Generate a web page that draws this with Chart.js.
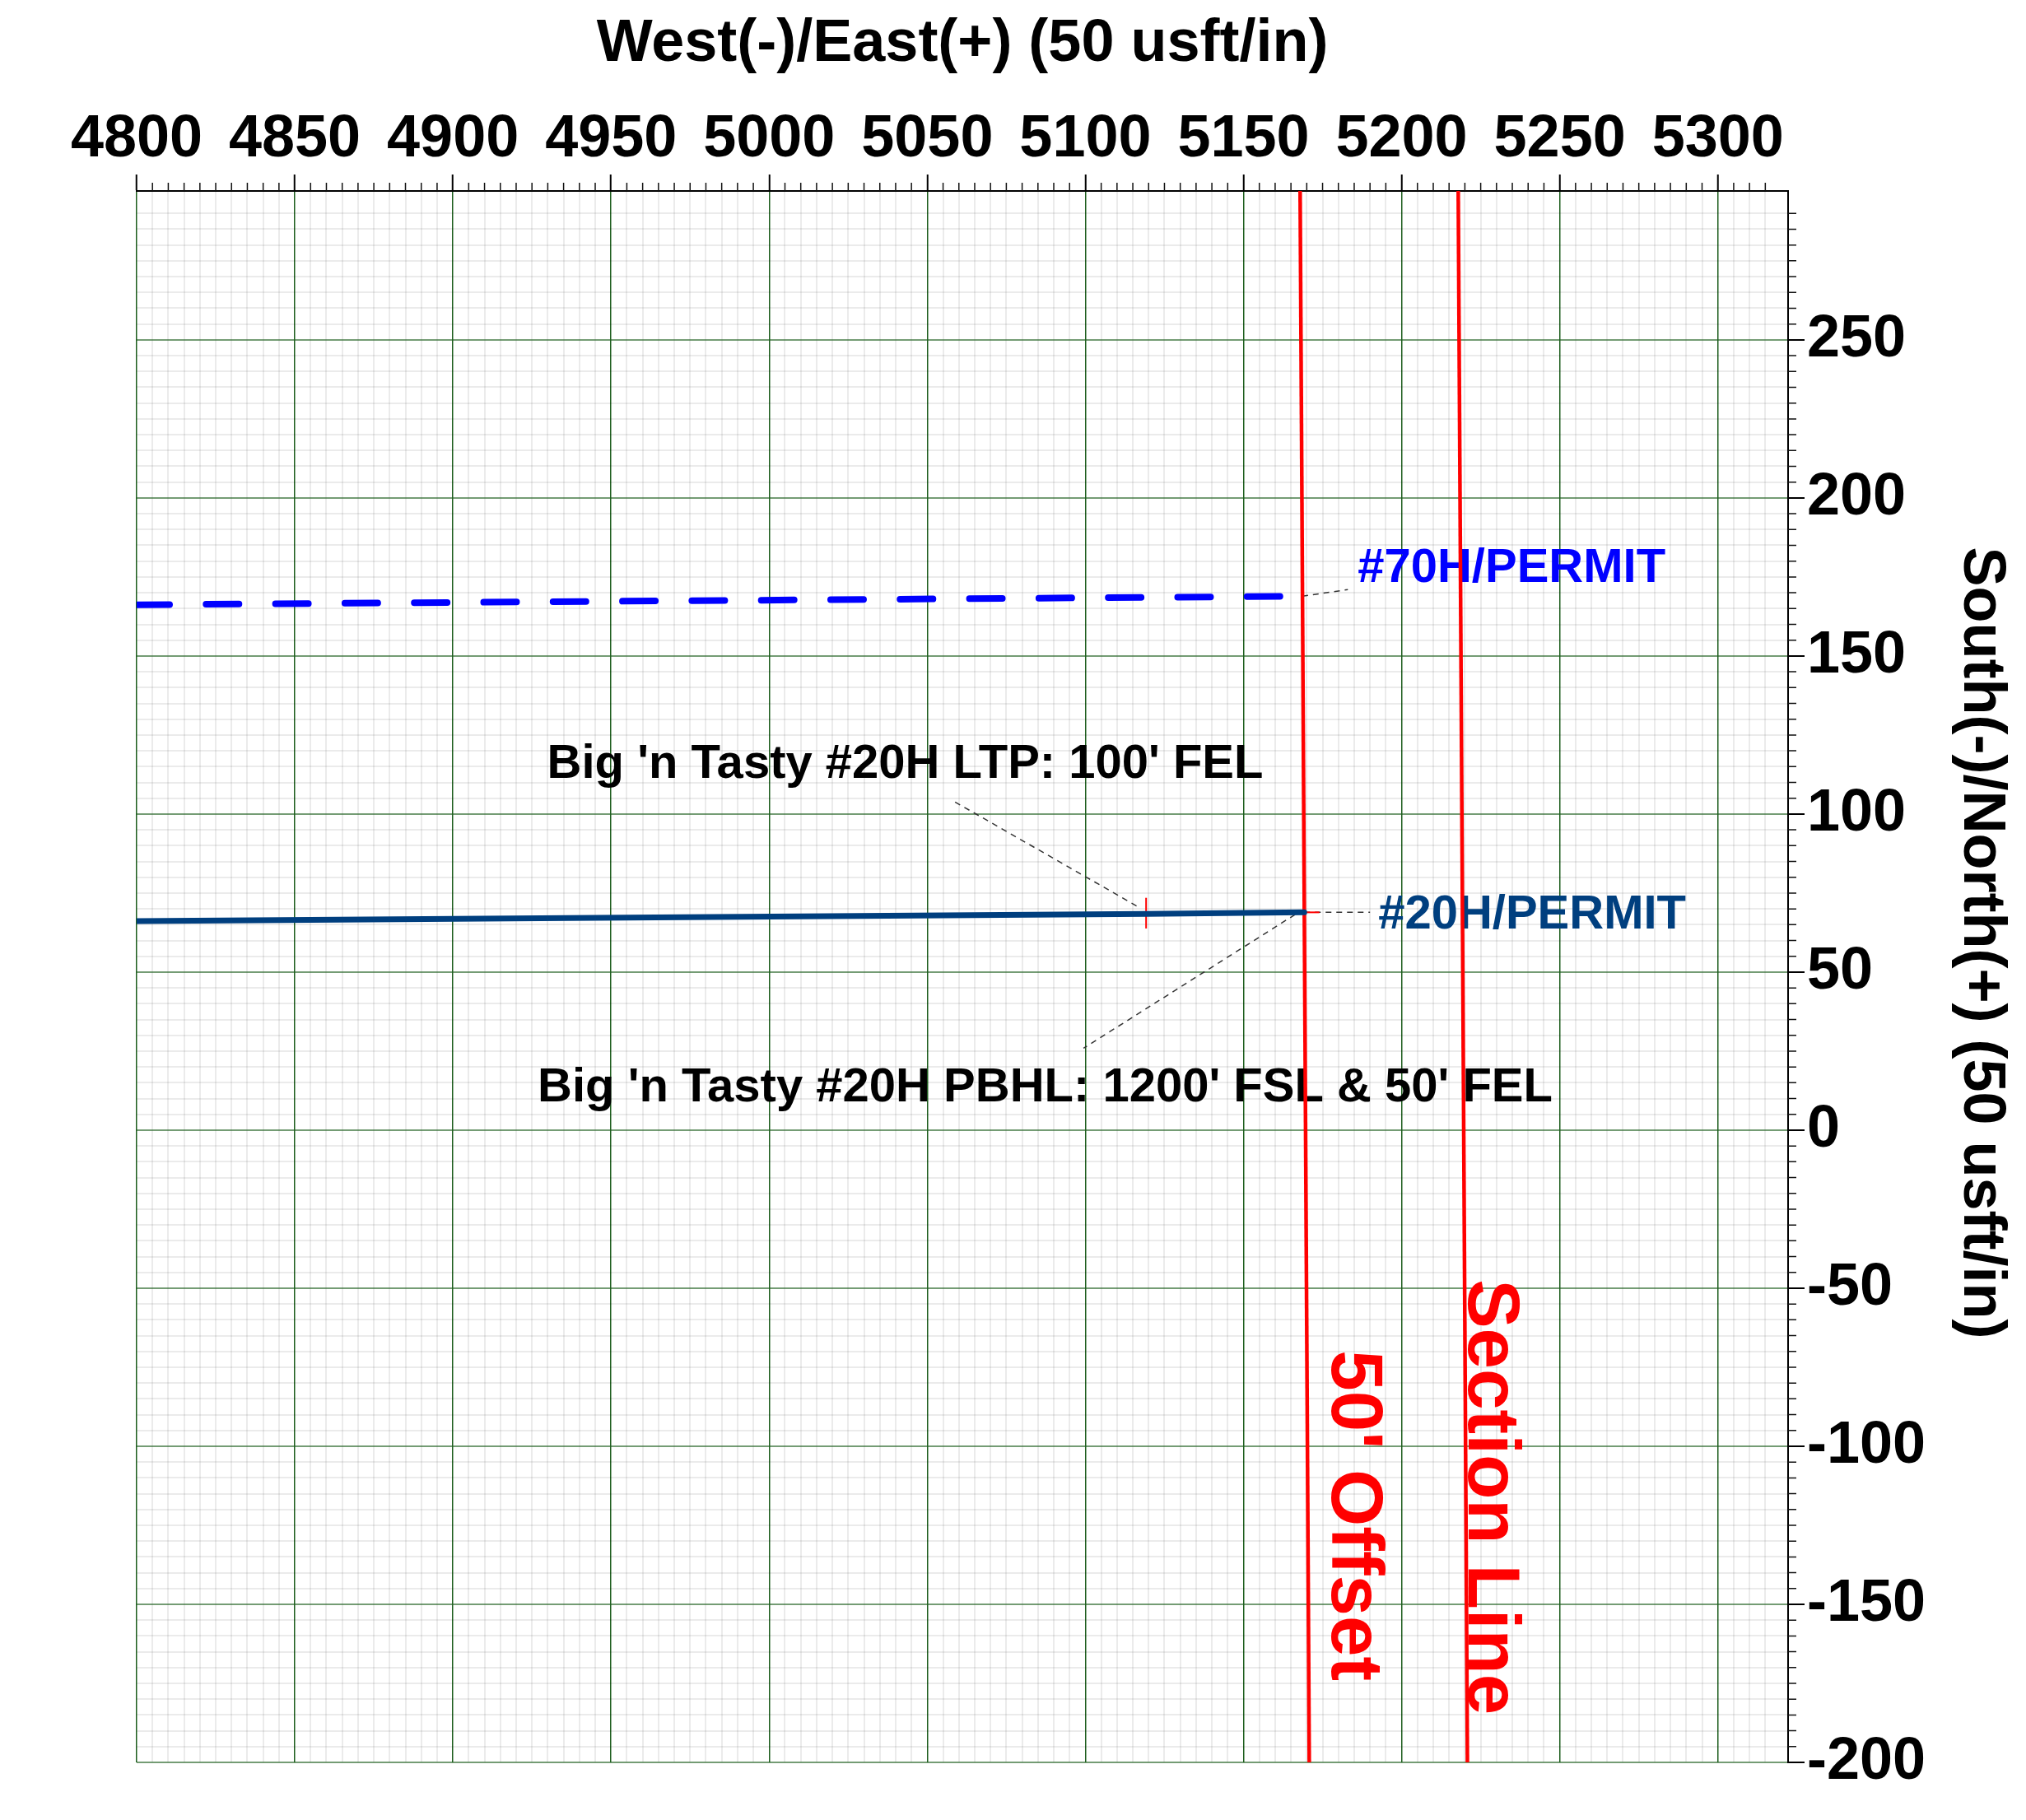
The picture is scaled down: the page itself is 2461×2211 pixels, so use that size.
<!DOCTYPE html>
<html>
<head>
<meta charset="utf-8">
<script src="https://cdn.jsdelivr.net/npm/chart.js@4.4.1/dist/chart.umd.min.js"></script>
<style>
  html, body { margin: 0; padding: 0; background: #fff; }
  #wrap { width: 2461px; height: 2211px; position: relative; }
</style>
</head>
<body>
<div id="wrap"><canvas id="plan"></canvas></div>
<script>
// plan view window (usft)
const xMin = 4800, xMax = 5322.2
const yMin = -200, yMax = 297.1

// well paths
const h70X = [4800, 5168.6]
const h70Y = [166.2, 168.9]
const h20X = [4800, 5119.2, 5169.2]
const h20Y = [66.1, 68.4, 68.9]

// hard lines
const offsetX = [5167.9, 5170.8]
const offsetY = [297.1, -200]
const sectionX = [5217.9, 5220.8]
const sectionY = [297.1, -200]

// LTP marker + PBHL stub
const ltpX = [5119.2, 5119.2]
const ltpY = [63.8, 73.5]
const pbhlX = [5169.2, 5174.0]
const pbhlY = [68.9, 68.9]

// label leaders
const lead70X = [5168.6, 5183.0]
const lead70Y = [168.9, 171.0]
const lead20X = [5169.2, 5190.0]
const lead20Y = [68.9, 68.9]
const leadLtpX = [5058.8, 5116.4]
const leadLtpY = [103.8, 70.8]
const leadPbhlX = [5166.3, 5099.4]
const leadPbhlY = [68.2, 25.9]

const FONT = '"Liberation Sans", Arial, Helvetica, sans-serif'

const pts = (xs, ys) => xs.map((x, i) => ({x: x, y: ys[i]}))
const onStep = (v, s) => Math.abs(v / s - Math.round(v / s)) < 1e-6

// text placed in data units
const notes = [
  {text: '#70H/PERMIT', x: 5186.1, y: 177.6, color: '#0000ff', size: 58},
  {text: '#20H/PERMIT', x: 5192.6, y: 68.0, color: '#003f7f', size: 58},
  {text: "Big 'n Tasty #20H LTP: 100' FEL", x: 4929.8, y: 115.6, color: '#000', size: 58},
  {text: "Big 'n Tasty #20H PBHL: 1200' FSL & 50' FEL", x: 4926.8, y: 13.3, color: '#000', size: 58}
]
const vnotes = [
  {text: "50' Offset", x: 5178.0, y: -69.6, color: '#ff0000', size: 89},
  {text: 'Section Line', x: 5221.3, y: -47.2, color: '#ff0000', size: 89}
]

const line = (data, color, width, extra) => Object.assign({
  data: data, borderColor: color, borderWidth: width, showLine: true,
  pointRadius: 0, fill: false, tension: 0
}, extra || {})

const leader = (xs, ys) => line(pts(xs, ys), '#333', 1.5, {borderDash: [7, 6], order: 3})

const decor = {
  id: 'decor',
  beforeDatasetsDraw(chart) {
    const ctx = chart.ctx, sx = chart.scales.x, sy = chart.scales.y
    ctx.save()
    notes.forEach(n => {
      ctx.font = 'bold ' + n.size + 'px ' + FONT
      ctx.fillStyle = n.color
      ctx.textAlign = 'left'
      ctx.textBaseline = 'middle'
      ctx.fillText(n.text, sx.getPixelForValue(n.x), sy.getPixelForValue(n.y))
    })
    vnotes.forEach(n => {
      ctx.save()
      ctx.translate(sx.getPixelForValue(n.x), sy.getPixelForValue(n.y))
      ctx.rotate(Math.PI / 2)
      ctx.font = 'bold ' + n.size + 'px ' + FONT
      ctx.fillStyle = n.color
      ctx.textAlign = 'left'
      ctx.textBaseline = 'alphabetic'
      ctx.fillText(n.text, 0, 0)
      ctx.restore()
    })
    ctx.restore()
  },
  afterDraw(chart) {
    const ctx = chart.ctx, sx = chart.scales.x, sy = chart.scales.y, a = chart.chartArea
    ctx.save()
    // minor tick marks
    ctx.strokeStyle = '#111'
    ctx.lineWidth = 1.5
    ctx.beginPath()
    sx.ticks.forEach(t => {
      if (onStep(t.value, 5) && !onStep(t.value, 50)) {
        const p = sx.getPixelForValue(t.value)
        ctx.moveTo(p, a.top)
        ctx.lineTo(p, a.top - 10)
      }
    })
    sy.ticks.forEach(t => {
      if (onStep(t.value, 5) && !onStep(t.value, 50)) {
        const p = sy.getPixelForValue(t.value)
        ctx.moveTo(a.right, p)
        ctx.lineTo(a.right + 10, p)
      }
    })
    ctx.stroke()
    // y axis title
    ctx.translate(a.right + 234, (a.top + a.bottom) / 2 - 41)
    ctx.rotate(Math.PI / 2)
    ctx.font = 'bold 72px ' + FONT
    ctx.fillStyle = '#000'
    ctx.textAlign = 'center'
    ctx.textBaseline = 'middle'
    ctx.fillText('South(-)/North(+) (50 usft/in)', 0, 0)
    ctx.restore()
  }
}

// minor lines are translucent so they don't break the green major lines
const gridColor = horiz => c => {
  const v = c.tick ? c.tick.value : NaN
  if (onStep(v, 50)) return horiz ? 'rgba(30,95,30,0.62)' : '#1e5e1e'
  if (onStep(v, 5)) return 'rgba(0,0,0,0.08)'
  return 'transparent'
}
const gridWidth = horiz => c => {
  const v = c.tick ? c.tick.value : NaN
  if (onStep(v, 50)) return horiz ? 2 : 1.5
  return 2
}
const tickColor = c => (c.tick && onStep(c.tick.value, 50)) ? '#000' : 'transparent'
const tickLabel = v => onStep(v, 50) ? String(Math.round(v)) : ''

new Chart(document.getElementById('plan'), {
  type: 'scatter',
  data: {
    datasets: [
      line(pts(h70X, h70Y), '#0000ff', 8, {borderDash: [40, 44.3], borderCapStyle: 'round', order: 0}),
      line(pts(h20X, h20Y), '#003f7f', 7, {borderCapStyle: 'round', order: 0}),
      line(pts(offsetX, offsetY), '#ff0000', 4.5, {order: 1}),
      line(pts(sectionX, sectionY), '#ff0000', 4.5, {order: 1}),
      line(pts(ltpX, ltpY), '#ff0000', 2, {order: 1}),
      line(pts(pbhlX, pbhlY), '#ff0000', 2, {order: 2}),
      leader(lead70X, lead70Y),
      leader(lead20X, lead20Y),
      leader(leadLtpX, leadLtpY),
      leader(leadPbhlX, leadPbhlY)
    ]
  },
  options: {
    responsive: true,
    maintainAspectRatio: false,
    devicePixelRatio: 1,
    animation: false,
    events: [],
    layout: {padding: {left: 166, right: 0, top: 0, bottom: 70}},
    plugins: {legend: {display: false}, tooltip: {enabled: false}},
    scales: {
      x: {
        type: 'linear', position: 'top', min: xMin, max: xMax,
        afterFit(s) { s.height = 232 },
        border: {display: true, color: '#000', width: 2},
        grid: {color: gridColor(false), lineWidth: gridWidth(false), tickLength: 20,
               tickColor: tickColor, tickWidth: 2},
        ticks: {stepSize: 5, maxTicksLimit: 1000, autoSkip: false, maxRotation: 0, minRotation: 0,
                padding: -1, color: '#000', font: {family: FONT, size: 72, weight: 'bold'},
                callback: tickLabel},
        title: {display: true, text: 'West(-)/East(+) (50 usft/in)', color: '#000',
                font: {family: FONT, size: 72, weight: 'bold'}, padding: {top: 11, bottom: 0}}
      },
      y: {
        type: 'linear', position: 'right', min: yMin, max: yMax,
        afterFit(s) { s.width = 289 },
        border: {display: true, color: '#000', width: 2},
        grid: {color: gridColor(true), lineWidth: gridWidth(true), tickLength: 20,
               tickColor: tickColor, tickWidth: 2},
        ticks: {stepSize: 5, maxTicksLimit: 1000, autoSkip: false, padding: 3, color: '#000',
                font: {family: FONT, size: 72, weight: 'bold'}, callback: tickLabel}
      }
    }
  },
  plugins: [decor]
})
</script>
</body>
</html>
